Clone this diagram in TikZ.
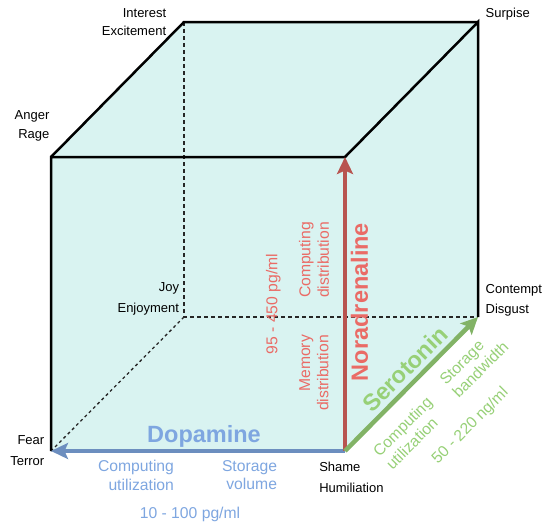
\documentclass[tikz,border=0pt]{standalone}
\usepackage{fontspec}
\setmainfont{Liberation Sans}
\usetikzlibrary{arrows.meta}

\definecolor{cubefill}{HTML}{D9F3F1}
\definecolor{dopaline}{HTML}{6C8EBF}
\definecolor{dopatext}{HTML}{7EA6E0}
\definecolor{noraline}{HTML}{B85450}
\definecolor{noratext}{HTML}{EA6B66}
\definecolor{seroline}{HTML}{82B366}
\definecolor{serotext}{HTML}{97D077}

\begin{document}
\begin{tikzpicture}[x=1pt,y=-1pt,
  edge/.style={line width=2.5pt, line join=miter},
  hidden/.style={line width=1.5pt, draw=black!85, dash pattern=on 4pt off 3pt},
  hiddendiag/.style={line width=1.3pt, draw=black!85, dash pattern=on 3pt off 3pt},
  axis/.style={line width=4.5pt, -{Stealth[length=17pt,width=16pt,inset=3.5pt]}},
  emotion/.style={inner sep=0pt, font=\fontsize{13}{#1}\selectfont, text=black},
  emotion/.default=20.5,
  small/.style={inner sep=0pt, font=\fontsize{15.7}{18.3}\selectfont},
  big/.style={inner sep=0pt, font=\fontsize{23.5}{28}\selectfont\bfseries},
]
\path[use as bounding box] (0,0) rectangle (551,525);

% cube corners: front face and back face
\coordinate (FTL) at (51,157);
\coordinate (FTR) at (345,157);
\coordinate (FBL) at (51,451);
\coordinate (FBR) at (345,451);
\coordinate (BTL) at (184,22);
\coordinate (BTR) at (478,22);
\coordinate (BBL) at (184,317);
\coordinate (BBR) at (478,317);

% body of the cube
\fill[cubefill] (FBL) -- (FTL) -- (BTL) -- (BTR) -- (BBR) -- (FBR) -- cycle;

% hidden edges
\draw[hidden] (BTL) -- (BBL) -- (BBR);
\draw[hiddendiag] (BBL) -- (FBL);

% visible edges
\draw[edge] (FBL) -- (FTL) -- (FTR) -- (BTR) -- (BBR);
\draw[edge] (FTL) -- (BTL) -- (BTR);

% the three axes
\draw[axis, dopaline] (FBR) -- (FBL);
\draw[axis, noraline] (FBR) -- (FTR);
\draw[axis, seroline] (FBR) -- (BBR);

% corner emotions
\node[emotion=18.4, align=right] (interest) at (134,21.8) {Interest\\Excitement};
\node[emotion] (surprise) at (507.7,14) {Surpise};
\node[emotion=18.4, align=right] (anger) at (32,125.7) {Anger\\Rage};
\node[emotion=21, align=right] (joy) at (148.3,298.9) {Joy\\Enjoyment};
\node[emotion=20, align=left] (contempt) at (513.9,300) {Contempt\\Disgust};
\node[emotion=20.3, align=right] (fear) at (27.3,450.5) {Fear\\Terror};
\node[emotion=20.6, align=left] (shame) at (351.4,477.3) {Shame\\Humiliation};

% dopamine axis labels
\node[big, text=dopatext] (dopamine) at (204,436.7) {Dopamine};
\node[small, text=dopatext, align=right] (dopacu) at (136,475.4) {Computing\\utilization};
\node[small, text=dopatext, align=right] (dopasv) at (249.5,475.4) {Storage\\volume};
\node[small, text=dopatext] (doparange) at (190,514) {10 - 100 pg/ml};

% noradrenaline axis labels
\node[big, text=noratext, rotate=90] (noradrenaline) at (359.5,302) {Noradrenaline};
\node[small, text=noratext, rotate=90, align=right] (noracd) at (314,260) {Computing\\distribution};
\node[small, text=noratext, rotate=90, align=right] (noramd) at (314,373) {Memory\\distribution};
\node[small, text=noratext, rotate=90] (nororange) at (273.3,304) {95 - 450 pg/ml};

% serotonin axis labels
\node[big, text=serotext, rotate=45] (serotonin) at (405,369) {Serotonin};
\node[small, text=serotext, rotate=45, align=left] (serocu) at (409,433) {Computing\\utilization};
\node[small, text=serotext, rotate=45, align=left] (serosb) at (474,363) {Storage\\bandwidth};
\node[small, text=serotext, rotate=45] (serorange) at (470.5,426) {50 - 220 ng/ml};
\end{tikzpicture}
\end{document}
